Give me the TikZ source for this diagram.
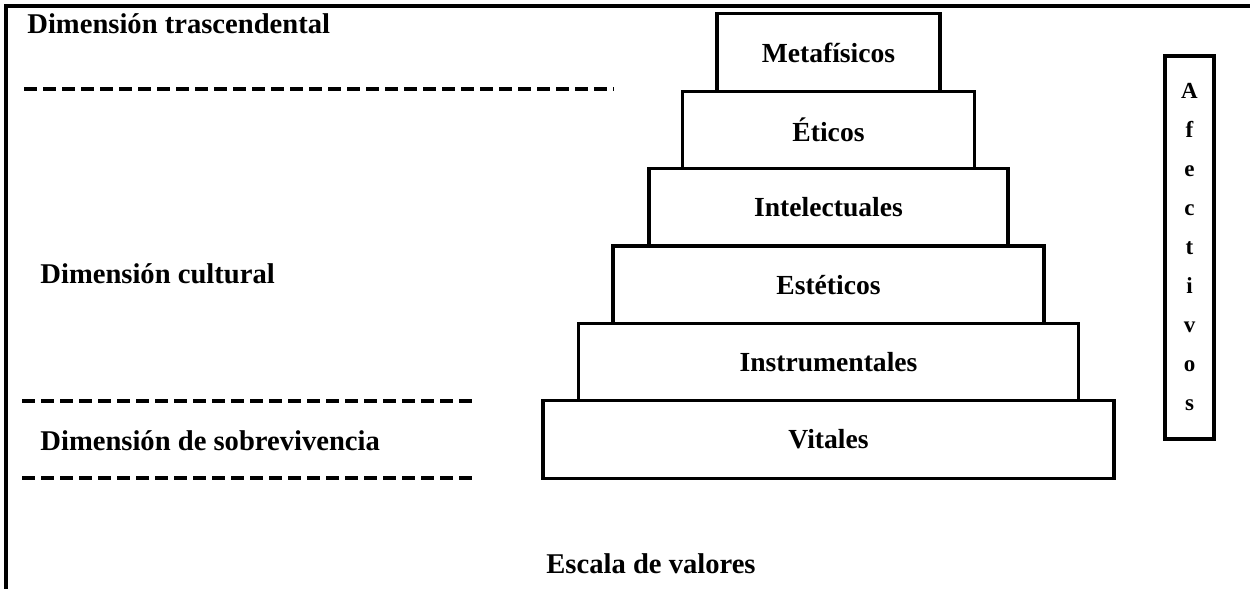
\documentclass[tikz,border=0pt]{standalone}
\usepackage{fontspec}
\setmainfont{Liberation Serif}
\usepackage{tikz}
\usetikzlibrary {positioning}
\tikzset{
        level/.style={draw, line width=1.6pt, rectangle, outer sep=0pt,
                      minimum height=38.7pt, align=center,
                      font=\fontsize{13.8}{16}\selectfont\bfseries},
        dim/.style={anchor=west, inner sep=0pt,
                    font=\fontsize{14.3}{16}\selectfont\bfseries},
        sep/.style={line width=1.9pt, dash pattern=on 6.5pt off 3pt},
        frame/.style={line width=2pt},
 }
\begin{document}
\begin{tikzpicture}[x=0.5pt, y=-0.5pt]
    \useasboundingbox (0,0) rectangle (1250,589);
    \draw[frame] (1250,6) -- (6,6) -- (6,589);

    % piramide
    \node[level, minimum width=285.5pt] (vit) at (828.5,439.5) {Vitales};
    \node[level, minimum width=250pt, above=0pt of vit] (ins) {Instrumentales};
    \node[level, minimum width=215.5pt, above=0pt of ins] (est) {Estéticos};
    \node[level, minimum width=179.5pt, above=0pt of est] (int) {Intelectuales};
    \node[level, minimum width=146pt, above=0pt of int] (eti) {Éticos};
    \node[level, minimum width=111.5pt, above=0pt of eti] (met) {Metafísicos};

    \node[draw, line width=1.6pt, minimum width=24.5pt, minimum height=191.5pt,
          align=center, font=\fontsize{11.5}{19.5}\selectfont\bfseries]
          (afe) at (1189.5,247.5) {A\\f\\e\\c\\t\\i\\v\\o\\s};

    % dimensiones
    \node[dim] (tras) at (27,24) {Dimensión trascendental};
    \node[dim] (cult) at (40,274) {Dimensión cultural};
    \node[dim] (sobr) at (40,441) {Dimensión de sobrevivencia};
    \node[dim, anchor=center] (esc) at (651,564) {Escala de valores};

    \coordinate (a1) at (24,89);
    \coordinate (a2) at (614,89);
    \coordinate (b1) at (22,401);
    \coordinate (b2) at (473,401);
    \coordinate (c1) at (22,478);
    \coordinate (c2) at (473,478);
    \draw[sep] (a1) -- (a2);
    \draw[sep] (b1) -- (b2);
    \draw[sep] (c1) -- (c2);
\end{tikzpicture}
\end{document}
